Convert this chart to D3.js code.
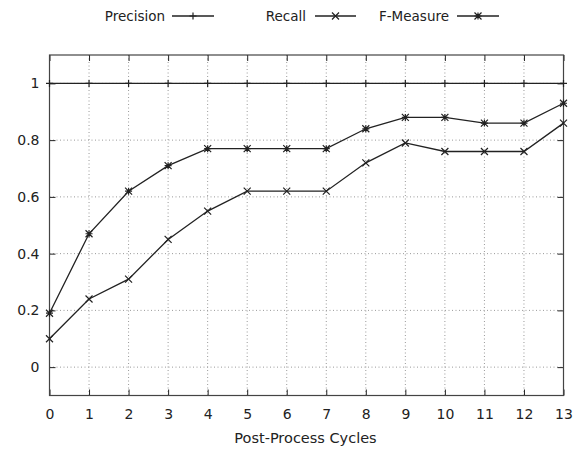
<!DOCTYPE html>
<html><head><meta charset="utf-8">
<script src="https://cdn.jsdelivr.net/npm/d3@7"></script>
<style>body{margin:0;background:#fff}svg{display:block}text{font-family:"DejaVu Sans",sans-serif;fill:#222}</style>
</head><body><svg id="c" width="581" height="450"></svg>
<script>
const cycles = [0,1,2,3,4,5,6,7,8,9,10,11,12,13];
const precision = [1,1,1,1,1,1,1,1,1,1,1,1,1,1];
const recall = [0.10,0.24,0.31,0.45,0.55,0.62,0.62,0.62,0.72,0.79,0.76,0.76,0.76,0.86];
const fmeasure = [0.19,0.47,0.62,0.71,0.77,0.77,0.77,0.77,0.84,0.88,0.88,0.86,0.86,0.93];
const yTicks = [0,0.2,0.4,0.6,0.8,1];
const yTickLabels = ["0","0.2","0.4","0.6","0.8","1"];
const seriesNames = ["Precision","Recall","F-Measure"];
const seriesMarkers = ["plus","cross","star"];

const svg = d3.select("#c");
const L=49.5,R=563.5,T=55,B=395.5;
const x = d3.scaleLinear().domain([0,13]).range([L,R]);
const y = d3.scaleLinear().domain([-0.1,1.1]).range([B,T]);
const ink="#222";

// grid
const g = svg.append("g");
cycles.forEach(c=>{ if(c>0&&c<13) g.append("line").attr("x1",x(c)).attr("x2",x(c)).attr("y1",T).attr("y2",B).attr("stroke","#999").attr("stroke-width",1).attr("stroke-dasharray","1,2.5");});
yTicks.forEach(v=>{ g.append("line").attr("x1",L).attr("x2",R).attr("y1",y(v)).attr("y2",y(v)).attr("stroke","#999").attr("stroke-width",1).attr("stroke-dasharray","1,2.5");});

// axes with inward ticks
const ax = svg.append("g");
const bAxis = d3.axisBottom(x).tickValues(cycles).tickSize(-6).tickPadding(14).tickFormat(d3.format("d"));
const tAxis = d3.axisTop(x).tickValues(cycles).tickSize(-6).tickFormat("");
const lAxis = d3.axisLeft(y).tickValues(yTicks).tickSize(-6).tickPadding(10).tickFormat((d,i)=>yTickLabels[i]);
const rAxis = d3.axisRight(y).tickValues(yTicks).tickSize(-6).tickFormat("");
[[bAxis,`translate(0,${B})`],[tAxis,`translate(0,${T})`],[lAxis,`translate(${L},0)`],[rAxis,`translate(${R},0)`]].forEach(([a,t])=>{
  const s=ax.append("g").attr("transform",t).call(a);
  s.select(".domain").remove();
  s.selectAll(".tick line").attr("stroke",ink);
  s.selectAll("text").attr("font-size",14).attr("fill","#222").attr("font-family","DejaVu Sans, sans-serif");
});
svg.append("rect").attr("x",L).attr("y",T).attr("width",R-L).attr("height",B-T).attr("fill","none").attr("stroke","#444").attr("stroke-width",1.2);

function marker(sel,type,cx,cy){
  const s=3.5;
  const p=d3.path();
  if(type==="plus"||type==="star"){p.moveTo(cx-s,cy);p.lineTo(cx+s,cy);p.moveTo(cx,cy-s);p.lineTo(cx,cy+s);}
  if(type==="cross"||type==="star"){p.moveTo(cx-s,cy-s);p.lineTo(cx+s,cy+s);p.moveTo(cx-s,cy+s);p.lineTo(cx+s,cy-s);}
  sel.append("path").attr("d",p.toString()).attr("stroke",ink).attr("stroke-width",1.2).attr("fill","none");
}
const line = d3.line().x((d,i)=>x(cycles[i])).y(d=>y(d));
const data=[precision,recall,fmeasure];
data.forEach((arr,k)=>{
  const sg=svg.append("g");
  sg.append("path").attr("d",line(arr)).attr("fill","none").attr("stroke",ink).attr("stroke-width",1.3);
  arr.forEach((v,i)=>marker(sg,seriesMarkers[k],x(cycles[i]),y(v)));
});

// legend
const legTextRight=[165,306,449], legLine=[[172,214],[315,356],[457,499]], ly=16;
seriesNames.forEach((n,k)=>{
  svg.append("text").attr("x",legTextRight[k]).attr("y",ly).attr("dy","0.35em").attr("text-anchor","end").attr("font-size",13.5).text(n);
  svg.append("line").attr("x1",legLine[k][0]).attr("x2",legLine[k][1]).attr("y1",ly).attr("y2",ly).attr("stroke",ink).attr("stroke-width",1.3);
  marker(svg,seriesMarkers[k],(legLine[k][0]+legLine[k][1])/2,ly);
});
svg.append("text").attr("x",305.5).attr("y",438).attr("dy","0.35em").attr("text-anchor","middle").attr("font-size",14.5).text("Post-Process Cycles");
</script></body></html>
